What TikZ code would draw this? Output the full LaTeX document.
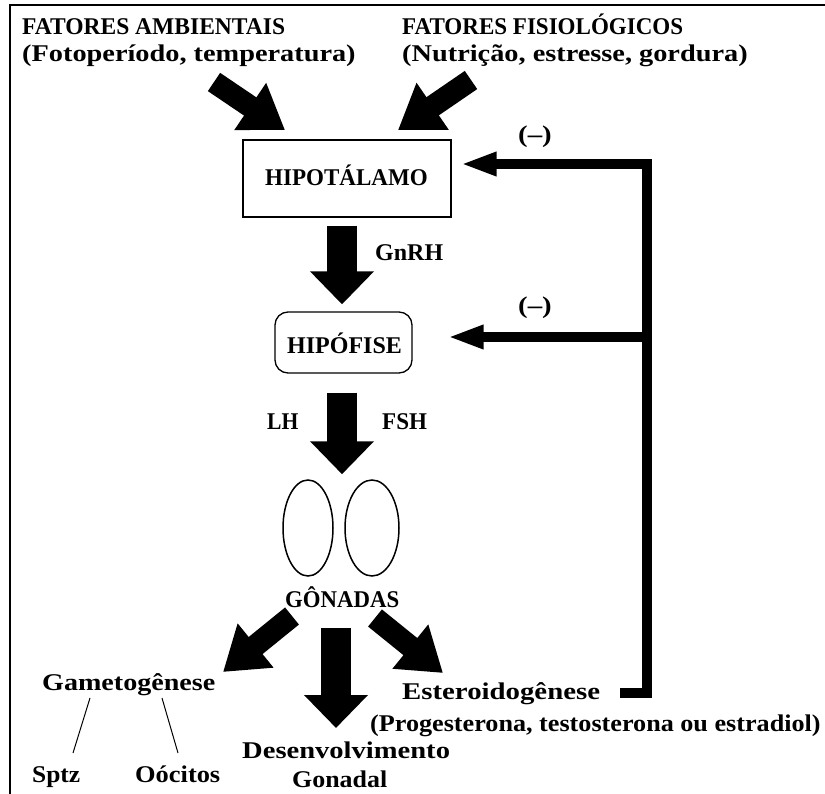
\documentclass[tikz,border=0pt]{standalone}
\usepackage{fontspec}
\setmainfont{Liberation Serif}
\usepackage{graphicx}
\usetikzlibrary{arrows.meta,shapes.geometric}
\newcommand\sx[2]{\scalebox{#1}[1]{#2}}
\tikzset{
  lbl/.style={inner sep=0pt, anchor=base west, font=\bfseries\fontsize{24}{28}\selectfont},
  vfat/.style={line width=30pt, -{Triangle[width=62pt,length=33pt]}},
  dfat/.style={line width=22pt, -{Triangle[width=54pt,length=42pt]}},
  fb/.style={line width=10pt, line join=miter, -{Triangle[width=22pt,length=36pt]}},
  thin/.style={line width=1pt},
  oval/.style={draw, ellipse, line width=1.5pt, inner sep=0pt}
}
\begin{document}
\begin{tikzpicture}[x=1pt,y=-1pt]
\useasboundingbox (0,0) rectangle (825,794);
% frame
\draw[line width=1.8pt] (10,794) -- (10,5) -- (825,5);

% top texts
\node[lbl] (amb1) at (22,35) {\sx{0.98}{FATORES AMBIENTAIS}};
\node[lbl] (amb2) at (22,62) {\sx{1.18}{(Fotoperíodo, temperatura)}};
\node[lbl] (fis1) at (402,35) {\sx{0.96}{FATORES FISIOLÓGICOS}};
\node[lbl] (fis2) at (402,62) {\sx{1.18}{(Nutrição, estresse, gordura)}};

% hipotalamo
\node[draw, line width=1.3pt, minimum width=208pt, minimum height=77pt, inner sep=0pt] (hipo) at (347,178.5) {};
\node[lbl] (hipot) at (265,186) {\sx{0.96}{HIPOTÁLAMO}};

% hipofise
\node[draw, line width=1.3pt, rounded corners=13pt, minimum width=137pt, minimum height=61pt, inner sep=0pt] (hipof) at (343.5,342.5) {};
\node[lbl] (hipoft) at (287,354) {HIPÓFISE};

% labels
\node[lbl] (gnrh) at (375,261) {GnRH};
\node[lbl] (neg1) at (518,143) {\sx{1.2}{(–)}};
\node[lbl] (neg2) at (518,314) {\sx{1.2}{(–)}};
\node[lbl] (lh) at (267,429) {\sx{0.9}{LH}};
\node[lbl] (fsh) at (382,429) {\sx{0.96}{FSH}};

% gonads
\node[oval, minimum width=50pt, minimum height=96pt] (g1) at (308,528) {};
\node[oval, minimum width=54pt, minimum height=96pt] (g2) at (372,528) {};
\node[lbl] (gon) at (285,607) {\sx{0.95}{GÔNADAS}};

% bottom texts
\node[lbl] (game) at (42,690) {\sx{1.17}{Gametogênese}};
\node[lbl] (sptz) at (32,782) {\sx{1.06}{Sptz}};
\node[lbl] (ooc) at (135,782) {\sx{1.1}{Oócitos}};
\node[lbl] (des1) at (242,758) {\sx{1.19}{Desenvolvimento}};
\node[lbl] (des2) at (292,787) {\sx{1.08}{Gonadal}};
\node[lbl] (est1) at (402,699) {\sx{1.2}{Esteroidogênese}};
\node[lbl] (est2) at (370,731) {\sx{1.09}{(Progesterona, testosterona ou estradiol)}};

% coordinates for arrow ends
\coordinate (a1s) at (214,82);
\coordinate (a1e) at (285,130);
\coordinate (a2s) at (471,80);
\coordinate (a2e) at (398,130);
\coordinate (b1s) at (292,616);
\coordinate (b1e) at (223,672);
\coordinate (b3s) at (375,618);
\coordinate (b3e) at (443,673);
\coordinate (fbstart) at (620,693);
\coordinate (fbc) at (647,693);
\coordinate (fbt) at (647,164);
\coordinate (fbm) at (647,337);

% fat arrows
\draw[dfat] (a1s) -- (a1e);
\draw[dfat] (a2s) -- (a2e);
\draw[vfat, shorten <=8pt, shorten >=7pt] ([xshift=-5pt]hipo.south) -- ([xshift=-1.5pt]hipof.north);
\draw[vfat, shorten <=19pt, shorten >=5pt] ([xshift=-1.5pt]hipof.south) -- ([xshift=34pt]g1.north);
\draw[dfat] (b1s) -- (b1e);
\draw[vfat] (336,628) -- (336,728);
\draw[dfat] (b3s) -- (b3e);

% feedback
\draw[fb] (fbstart) -- (fbc) -- (fbt) -- ([xshift=9pt]hipo.east |- fbt);
\draw[fb] (fbm) -- ([xshift=35pt]hipof.east |- fbm);

% thin lines
\draw[thin] (90,698) -- (73,753);
\draw[thin] (162,698) -- (178,753);
\end{tikzpicture}
\end{document}
